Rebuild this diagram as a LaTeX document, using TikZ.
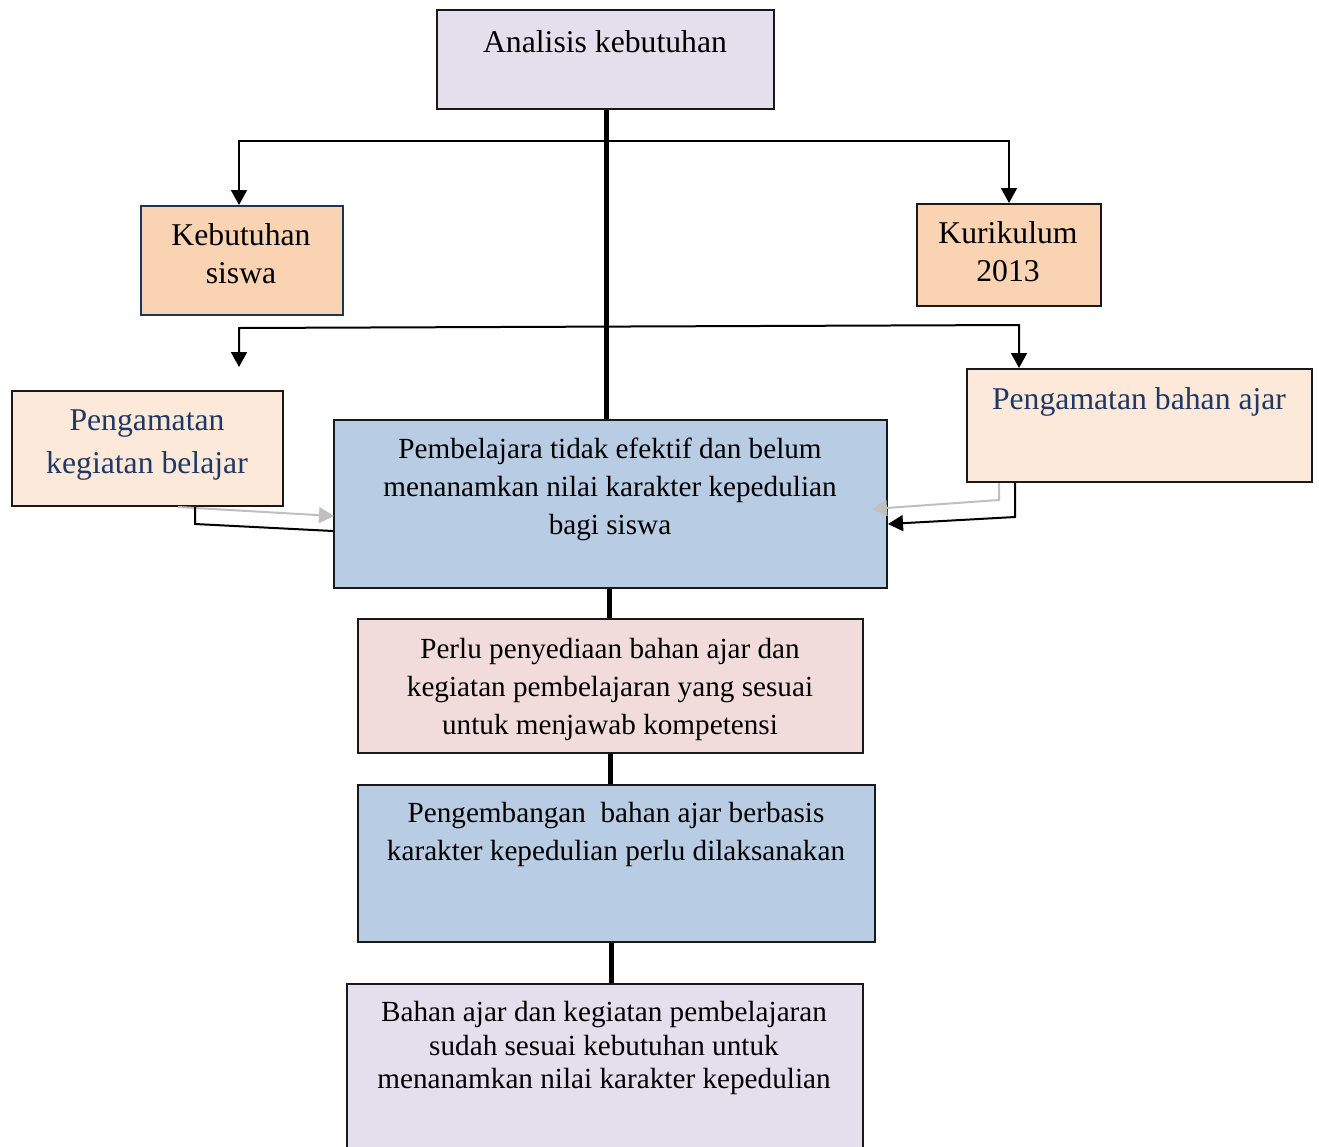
\documentclass[tikz,border=0pt]{standalone}
\usepackage{fontspec}
\setmainfont{Liberation Serif}
\usetikzlibrary{arrows.meta}
\definecolor{lav}{HTML}{E4DFEC}
\definecolor{peach}{HTML}{FAD3B2}
\definecolor{lpeach}{HTML}{FDE9D9}
\definecolor{lblue}{HTML}{B8CCE4}
\definecolor{lpink}{HTML}{F2DCDB}
\definecolor{navy}{HTML}{17365D}
\definecolor{tnavy}{HTML}{1F3864}
\definecolor{lgray}{HTML}{BFBFBF}
\tikzset{
  box/.style={draw=black!90, line width=2pt, inner sep=0pt, anchor=north west},
  big/.style={inner sep=0pt, align=center, font=\fontsize{31.7}{38}\selectfont},
  small/.style={inner sep=0pt, align=center, font=\fontsize{29.2}{38}\selectfont},
  thick line/.style={line width=5pt},
  conn/.style={line width=2pt},
  tip/.tip={Triangle[length=15pt,width=16pt]},
  arr/.style={conn, -tip},
  garr/.style={line width=2pt, lgray, -tip},
}
\begin{document}
\begin{tikzpicture}[x=1pt,y=-1pt]
\useasboundingbox (0,0) rectangle (1319,1146);
\begin{scope}
\clip (0,0) rectangle (1319,1146);
% boxes
\node[box, fill=lav, minimum width=337pt, minimum height=99pt] (top) at (436,9) {};
\node[box, fill=peach, draw=navy, minimum width=202pt, minimum height=109pt] (keb) at (140,205) {};
\node[box, fill=peach, minimum width=184pt, minimum height=102pt] (kur) at (916,203) {};
\node[box, fill=lpeach, minimum width=271pt, minimum height=115pt] (pkb) at (11,390) {};
\node[box, fill=lpeach, minimum width=345pt, minimum height=113pt] (pba) at (966,368) {};
\node[box, fill=lblue, minimum width=553pt, minimum height=168pt] (main) at (333,419) {};
\node[box, fill=lpink, minimum width=505pt, minimum height=134pt] (perlu) at (357,618) {};
\node[box, fill=lblue, minimum width=517pt, minimum height=157pt] (peng) at (357,784) {};
\node[box, fill=lav, minimum width=516pt, minimum height=200pt] (bahan) at (346,983) {};
\end{scope}
% texts
\node[big] (ttop) at (605,42) {Analisis kebutuhan};
\node[big] (tkeb) at (241,254) {Kebutuhan\\siswa};
\node[big] (tkur) at (1008,252) {Kurikulum\\2013};
\node[big, text=tnavy, font=\fontsize{31.7}{43}\selectfont] (tpkb) at (147,445) {Pengamatan\\kegiatan belajar};
\node[big, text=tnavy] (tpba) at (1139,402) {Pengamatan bahan ajar};
\node[small] (tmain) at (610,489) {Pembelajara tidak efektif dan belum\\menanamkan nilai karakter kepedulian\\bagi siswa};
\node[small] (tperlu) at (610,689) {Perlu penyediaan bahan ajar dan\\kegiatan pembelajaran yang sesuai\\untuk menjawab kompetensi};
\node[small] (tpeng) at (616,834) {Pengembangan\ \ bahan ajar berbasis\\karakter kepedulian perlu dilaksanakan};
\node[small, font=\fontsize{29.2}{33.5}\selectfont] (tbahan) at (604,1048) {Bahan ajar dan kegiatan pembelajaran\\sudah sesuai kebutuhan untuk\\menanamkan nilai karakter kepedulian};
% spine
\draw[thick line] (606,0 |- top.south) -- (606,0 |- main.north);
\draw[thick line] (609,0 |- main.south) -- (609,0 |- perlu.north);
\draw[thick line] (610,0 |- perlu.south) -- (610,0 |- peng.north);
\draw[thick line] (611,0 |- peng.south) -- (611,0 |- bahan.north);
% first branch
\coordinate (j1) at (606,141);
\draw[arr] (j1) -- (239,141) -- (239,0 |- keb.north);
\draw[arr] (j1) -- (1009,141) -- (1009,0 |- kur.north);
% second branch
\coordinate (a2l) at (239,367);
\draw[conn, tip-tip] (a2l) -- (239,328) -- (1019,325) -- (1019,0 |- pba.north);
% left inputs
\draw[garr] (178,0 |- pkb.south) -- (334,516);
\draw[conn] (195,0 |- pkb.south) -- (195,524) -- (main.west |- 0,531);
% right inputs
\draw[garr] (999,0 |- pba.south) -- (999,500) -- (872,509);
\draw[arr] (1015,0 |- pba.south) -- (1015,517) -- (main.east |- 0,524);
\end{tikzpicture}
\end{document}
